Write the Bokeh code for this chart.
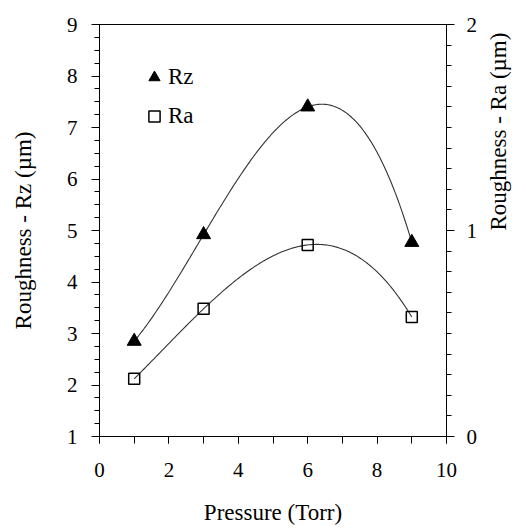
import math
import numpy as np
from bokeh.plotting import figure
from bokeh.models import Range1d, LinearAxis, FixedTicker, Legend, LegendItem
from bokeh.embed import file_html
from bokeh.resources import INLINE

# ---- data ----
pressure = [1, 3, 6, 9]
rz_values = [2.85, 4.92, 7.40, 4.77]
ra_values = [0.28, 0.62, 0.93, 0.58]

x_ticks = [0, 2, 4, 6, 8, 10]
x_minor = list(range(0, 11))
rz_ticks = [1, 2, 3, 4, 5, 6, 7, 8, 9]
rz_minor = [1 + 0.25 * i for i in range(33)]
ra_ticks = [0, 1, 2]
ra_minor = [round(0.1 * i, 2) for i in range(21)]

FONT = "Liberation Serif"
LEGEND_FONT = "Times New Roman"

p = figure(width=526, height=528, output_backend="svg", toolbar_location=None,
           x_range=Range1d(0, 10), y_range=Range1d(1, 9),
           min_border_left=99, min_border_right=77, min_border_top=24, min_border_bottom=92)
p.extra_y_ranges = {"ra": Range1d(0, 2)}
p.grid.visible = False
p.outline_line_color = "black"

# cubic trendlines through the measured points
xs = np.linspace(min(pressure), max(pressure), 200)
rz_fit = np.polyval(np.polyfit(pressure, rz_values, 3), xs)
ra_fit = np.polyval(np.polyfit(pressure, ra_values, 3), xs)
p.line(xs, rz_fit, line_color="#333333", line_width=1.1)
p.line(xs, ra_fit, line_color="#333333", line_width=1.1, y_range_name="ra")

tri = p.scatter(pressure, rz_values, marker="triangle", size=14,
                fill_color="black", line_color="black")
sq = p.scatter(pressure, ra_values, marker="square", size=11, fill_color=None,
               line_color="black", line_width=1.5, y_range_name="ra")

def text_style(ax):
    ax.major_label_text_font = FONT
    ax.major_label_text_font_size = "21px"
    ax.axis_label_text_font = FONT
    ax.axis_label_text_font_size = "23px"
    ax.axis_label_text_font_style = "normal"
    ax.major_label_text_color = "black"
    ax.axis_label_text_color = "black"
    ax.major_tick_in = 0
    ax.major_tick_out = 8
    ax.minor_tick_in = 0
    ax.minor_tick_out = 5

xa = p.xaxis[0]
xa.ticker = FixedTicker(ticks=x_ticks, minor_ticks=x_minor)
xa.axis_label = "Pressure (Torr)"
text_style(xa)
xa.major_tick_out = 7
xa.minor_tick_out = 7
xa.major_label_standoff = 19
xa.axis_label_standoff = 20

ya = p.yaxis[0]
ya.ticker = FixedTicker(ticks=rz_ticks, minor_ticks=rz_minor)
ya.axis_label = "Roughness - Rz (µm)"
text_style(ya)
ya.major_label_standoff = 14
ya.axis_label_standoff = 28

yr = LinearAxis(y_range_name="ra", ticker=FixedTicker(ticks=ra_ticks, minor_ticks=ra_minor),
                axis_label="Roughness - Ra (µm)")
text_style(yr)
yr.major_label_standoff = 12
yr.axis_label_standoff = 18
yr.axis_label_orientation = math.pi / 2
p.add_layout(yr, "right")

legend = Legend(items=[LegendItem(label="Rz", renderers=[tri]),
                       LegendItem(label="Ra", renderers=[sq])],
                location=(41, 306), orientation="vertical",
                border_line_color=None, background_fill_alpha=0,
                padding=0, margin=0, spacing=11,
                glyph_width=28, glyph_height=28, label_height=16, label_standoff=0,
                label_text_font=LEGEND_FONT, label_text_font_size="23px",
                label_text_color="black")
p.add_layout(legend)

open("out.html", "w").write(file_html(p, INLINE))
